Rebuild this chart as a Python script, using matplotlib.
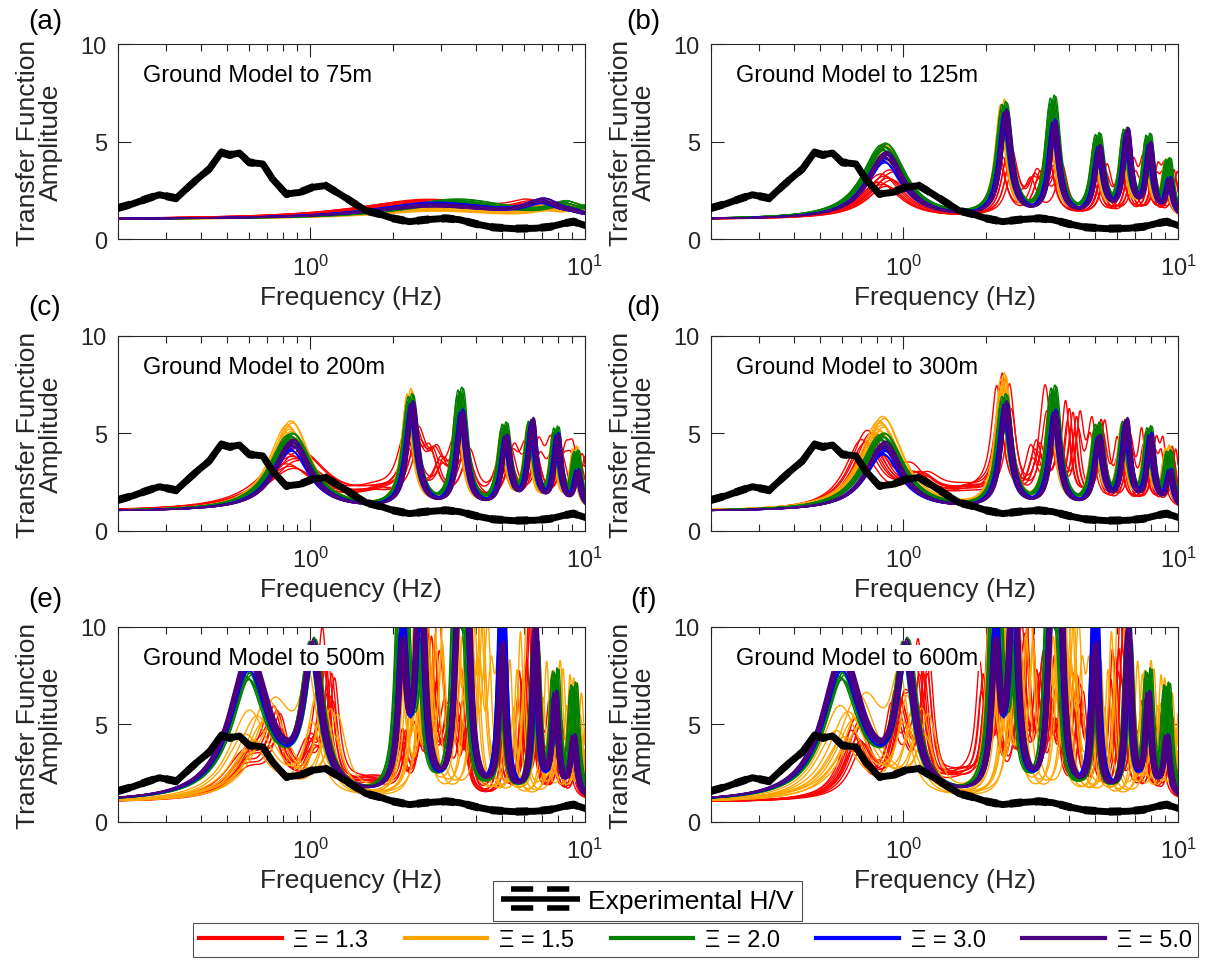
import numpy as np
import matplotlib
matplotlib.use('Agg')
import matplotlib.pyplot as plt
from matplotlib.lines import Line2D
from matplotlib.legend_handler import HandlerBase
from matplotlib.ticker import FixedLocator, NullFormatter

plt.rcParams['font.family'] = ['Liberation Sans', 'DejaVu Sans']
plt.rcParams['mathtext.fontset'] = 'custom'
plt.rcParams['mathtext.rm'] = 'Liberation Sans'
plt.rcParams['mathtext.default'] = 'regular'

# ---- data -------------------------------------------------------------
XI_LABELS = ['1.3', '1.5', '2.0', '3.0', '5.0']
XI_COLORS = ['#ff0000', '#ffa500', '#008000', '#0000ff', '#4b0082']
DEPTHS = ['75m', '125m', '200m', '300m', '500m', '600m']
PANEL_TAGS = ['(a)', '(b)', '(c)', '(d)', '(e)', '(f)']

# experimental H/V curve (black)
HV_FREQ = [0.2, 0.226, 0.253, 0.283, 0.326, 0.354, 0.395, 0.43, 0.475, 0.51,
           0.553, 0.60, 0.673, 0.73, 0.818, 0.915, 1.02, 1.14, 1.28, 1.43,
           1.6, 1.79, 2.0, 2.3, 2.64, 3.12, 3.5, 4.02, 4.62, 5.5, 6.6, 7.5,
           8.5, 9.1, 10.0]
HV_AMP = [1.59, 1.8, 2.05, 2.27, 2.09, 2.56, 3.16, 3.59, 4.44, 4.31,
          4.41, 3.93, 3.85, 3.08, 2.31, 2.39, 2.65, 2.74, 2.31, 1.88,
          1.45, 1.28, 1.06, 0.89, 0.99, 1.06, 0.99, 0.77, 0.6, 0.53, 0.55, 0.63,
          0.82, 0.89, 0.7]

# resonance peaks: frequency (Hz), width (ln f),
# peak amplitude per Xi (rows: 1.3, 1.5, 2.0, 3.0, 5.0)
A_FREQ = [2.8, 7.0, 9.0]
A_WIDTH = [0.65, 0.17, 0.08]
A_AMP = [[1.85, 1.5, 1.3],
         [1.6, 1.35, 1.45],
         [1.9, 1.55, 1.45],
         [1.75, 1.7, 1.1],
         [1.7, 1.75, 1.1]]
A_SHIFT = [0.93, 1.03, 1.2, 1.0, 1.0]
A_WFAC = [1.1, 1.0, 0.9, 1.0, 1.0]
A_RED_EXTRA = []

B_FREQ = [0.85, 2.33, 3.5, 5.1, 6.45, 7.8, 9.2]
B_WIDTH = [0.19, 0.056, 0.05, 0.045, 0.04, 0.036, 0.033]
B_AMP = [[3.1, 4.0, 3.6, 3.2, 3.3, 3.2, 3.0],
         [4.5, 6.4, 6.1, 4.5, 4.7, 4.4, 3.6],
         [4.7, 6.5, 6.8, 4.9, 5.1, 4.8, 3.7],
         [4.1, 6.1, 5.6, 4.3, 5.0, 4.4, 2.8],
         [4.3, 6.2, 5.6, 4.4, 5.2, 4.5, 2.8]]
B_SHIFT = [1.02, 0.99, 1.0, 1.01, 1.015]
B_WFAC = [1.1, 1.0, 1.05, 1.0, 0.95]
B_RED_EXTRA = [(3.1, 2.6, 0.06)]

C_FREQ = [0.85, 2.32, 3.52, 5.1, 6.35, 7.85, 9.3]
C_WIDTH = [0.19, 0.056, 0.05, 0.045, 0.04, 0.036, 0.033]
C_AMP = [[3.6, 4.2, 3.7, 3.4, 3.6, 3.4, 3.2],
         [5.2, 6.5, 6.2, 4.7, 4.9, 4.5, 3.8],
         [4.8, 6.5, 6.8, 5.0, 5.1, 4.8, 3.7],
         [4.3, 6.1, 5.7, 4.4, 5.1, 4.5, 2.8],
         [4.5, 6.2, 5.7, 4.5, 5.3, 4.5, 2.8]]
C_SHIFT = [1.02, 0.99, 1.0, 1.01, 1.015]
C_WFAC = [1.5, 1.0, 1.05, 1.0, 0.95]
C_RED_EXTRA = [(1.75, 1.6, 0.25), (2.9, 2.8, 0.07)]

D_FREQ = [0.84, 2.33, 3.52, 5.1, 6.4, 7.85, 9.25]
D_WIDTH = [0.19, 0.056, 0.05, 0.045, 0.04, 0.036, 0.033]
D_AMP = [[1.0, 6.3, 3.8, 4.6, 4.0, 4.0, 3.6],
         [5.4, 7.2, 6.2, 4.7, 4.9, 4.5, 3.8],
         [4.8, 6.5, 6.9, 5.0, 5.1, 4.8, 3.7],
         [4.1, 6.1, 5.7, 4.4, 5.1, 4.5, 2.8],
         [4.4, 6.2, 5.7, 4.5, 5.3, 4.5, 2.8]]
D_SHIFT = [1.0, 0.99, 1.0, 1.01, 1.015]
D_WFAC = [1.0, 1.05, 1.05, 1.0, 0.95]
D_RED_EXTRA = [(0.75, 4.3, 0.17), (1.15, 2.2, 0.15), (1.75, 1.8, 0.3),
               (3.1, 3.4, 0.06), (4.15, 5.0, 0.04)]

E_FREQ = [0.6, 1.02, 2.17, 2.52, 3.45, 3.7, 5.0, 6.6, 7.8, 9.1]
E_WIDTH = [0.2, 0.09, 0.04, 0.04, 0.035, 0.035, 0.03, 0.03, 0.03, 0.03]
E_AMP = [[3.0, 3.0, 3.5, 4.0, 4.0, 3.5, 4.5, 5.0, 4.5, 4.0],
         [5.0, 5.0, 10.0, 9.0, 10.0, 8.0, 7.5, 7.0, 6.0, 6.0],
         [7.4, 8.2, 14.0, 8.0, 14.0, 7.0, 9.0, 8.5, 7.0, 6.5],
         [7.9, 7.8, 9.0, 12.0, 9.0, 12.0, 12.0, 8.0, 6.0, 4.0],
         [8.2, 8.1, 8.0, 14.0, 8.0, 14.0, 8.5, 9.5, 6.0, 4.0]]
E_SHIFT = [1.0, 1.1, 1.0, 1.0, 1.0]
E_WFAC = [1.0, 1.0, 1.0, 1.0, 1.0]
E_RED_EXTRA = [(0.75, 4.0, 0.08), (1.17, 6.3, 0.05), (1.65, 1.8, 0.25),
               (2.8, 7.0, 0.04), (3.15, 4.0, 0.05), (6.0, 6.5, 0.03)]

F_FREQ = [0.6, 1.02, 2.17, 2.52, 3.45, 3.7, 5.0, 6.6, 7.8, 9.1]
F_WIDTH = [0.2, 0.09, 0.04, 0.04, 0.035, 0.035, 0.03, 0.03, 0.03, 0.03]
F_AMP = [[1.0, 3.0, 4.5, 4.0, 4.5, 3.5, 5.0, 5.0, 4.5, 4.5],
         [5.2, 5.0, 10.0, 9.0, 10.0, 8.0, 7.5, 7.0, 6.0, 6.0],
         [7.4, 8.2, 14.0, 8.0, 14.0, 7.0, 9.0, 8.5, 7.0, 6.5],
         [7.9, 7.8, 9.0, 12.0, 9.0, 12.0, 12.0, 8.0, 6.0, 4.0],
         [8.2, 8.1, 8.0, 14.0, 8.0, 14.0, 8.5, 9.5, 6.0, 4.0]]
F_SHIFT = [1.0, 1.08, 1.0, 1.0, 1.0]
F_WFAC = [1.0, 1.0, 1.0, 1.0, 1.0]
F_RED_EXTRA = [(0.68, 4.2, 0.12), (0.95, 3.8, 0.06), (1.18, 6.6, 0.05),
               (1.65, 2.0, 0.25), (2.0, 5.5, 0.04), (2.75, 7.3, 0.04),
               (3.1, 5.5, 0.04), (4.3, 6.0, 0.04), (6.0, 7.5, 0.03)]

# scatter of the realisations within each Xi group
SPREAD = [-1.0, -0.75, -0.5, -0.25, 0.0, 0.25, 0.5, 0.75, 1.0]
A_FSPREAD, A_ASPREAD, A_MIX = [0.05, 0.04, 0.03, 0.03, 0.025], [0.2, 0.3, 0.15, 0.15, 0.1], [1, 1, 0, 0, 0]
BD_FSPREAD, BD_ASPREAD, BD_MIX = [0.06, 0.025, 0.025, 0.02, 0.015], [0.2, 0.1, 0.05, 0.07, 0.05], [2, 0, 0, 0, 0]
EF_FSPREAD, EF_ASPREAD, EF_MIX = [0.05, 0.12, 0.03, 0.02, 0.02], [0.25, 0.3, 0.05, 0.05, 0.04], [2, 1, 0, 0, 0]

FREQ_GRID = np.logspace(np.log10(0.2), np.log10(10), 1500)


def transfer_curve(freq, peaks):
    amp = np.ones_like(freq)
    for f0, a0, w in peaks:
        amp += (a0 - 1.0) / (1.0 + (np.log(freq / f0) / w) ** 2)
    return amp


def realisations(p, j):
    base = [(f * p['shift'][j], a, w * p['wfac'][j])
            for f, a, w in zip(p['freq'], p['amp'][j], p['width'])]
    if j == 0:
        base = base + p['extra']
    fs, asp, mix = p['fspread'][j], p['aspread'][j], p['mix'][j]
    n = len(SPREAD)
    out = []
    for i in range(n):
        peaks = []
        for k, (f0, a0, w) in enumerate(base):
            s = SPREAD[(i + k * mix) % n]
            t = SPREAD[(4 * i + k * mix + 2) % n]
            peaks.append((f0 * (1 + fs * s), 1 + (a0 - 1) * (1 + asp * t), w))
        out.append(transfer_curve(FREQ_GRID, peaks))
    return out


PANELS = [
    dict(freq=A_FREQ, width=A_WIDTH, amp=A_AMP, shift=A_SHIFT, wfac=A_WFAC, extra=A_RED_EXTRA,
         fspread=A_FSPREAD, aspread=A_ASPREAD, mix=A_MIX),
    dict(freq=B_FREQ, width=B_WIDTH, amp=B_AMP, shift=B_SHIFT, wfac=B_WFAC, extra=B_RED_EXTRA,
         fspread=BD_FSPREAD, aspread=BD_ASPREAD, mix=BD_MIX),
    dict(freq=C_FREQ, width=C_WIDTH, amp=C_AMP, shift=C_SHIFT, wfac=C_WFAC, extra=C_RED_EXTRA,
         fspread=BD_FSPREAD, aspread=BD_ASPREAD, mix=BD_MIX),
    dict(freq=D_FREQ, width=D_WIDTH, amp=D_AMP, shift=D_SHIFT, wfac=D_WFAC, extra=D_RED_EXTRA,
         fspread=BD_FSPREAD, aspread=BD_ASPREAD, mix=BD_MIX),
    dict(freq=E_FREQ, width=E_WIDTH, amp=E_AMP, shift=E_SHIFT, wfac=E_WFAC, extra=E_RED_EXTRA,
         fspread=EF_FSPREAD, aspread=EF_ASPREAD, mix=EF_MIX),
    dict(freq=F_FREQ, width=F_WIDTH, amp=F_AMP, shift=F_SHIFT, wfac=F_WFAC, extra=F_RED_EXTRA,
         fspread=EF_FSPREAD, aspread=EF_ASPREAD, mix=EF_MIX),
]


class HVHandler(HandlerBase):
    # solid line with dashed bounds above and below, as in the H/V legend
    def create_artists(self, legend, orig_handle, xdescent, ydescent, width, height, fontsize, trans):
        x0, x1 = -xdescent, width - xdescent
        yc = height / 2 - ydescent
        off = 0.5 * height
        arts = [Line2D([x0, x1], [yc, yc], color='k', lw=4, solid_capstyle='butt')]
        for dy in (off, -off):
            arts.append(Line2D([x0 + 0.12 * width, x1], [yc + dy, yc + dy], color='k', lw=4,
                               dashes=(4, 2.5), dash_capstyle='butt'))
        for a in arts:
            a.set_transform(trans)
        return arts


fig = plt.figure(figsize=(12.06, 9.62), dpi=100)

lefts = [0.0978, 0.5896]
bottoms = [0.7505, 0.4470, 0.1445]
tag_y = [0.977, 0.680, 0.376]
W, H = 0.3872, 0.2027
GREY = '#262626'

for n, p in enumerate(PANELS):
    row, col = divmod(n, 2)
    ax = fig.add_axes([lefts[col], bottoms[row], W, H])
    for j, color in enumerate(XI_COLORS):
        for curve in realisations(p, j):
            ax.plot(FREQ_GRID, curve, color=color, lw=1.0, zorder=2)
    ax.plot(HV_FREQ, HV_AMP, color='k', lw=5, solid_joinstyle='round', zorder=3)
    ax.plot(HV_FREQ, np.array(HV_AMP) + 0.1, color='k', lw=3, dashes=(3, 3), zorder=3)
    ax.plot(HV_FREQ, np.array(HV_AMP) - 0.1, color='k', lw=3, dashes=(3, 3), zorder=3)

    ax.set_xscale('log')
    ax.set_xlim(0.2, 10)
    ax.set_ylim(0, 10)
    ax.set_yticks([0, 5, 10])
    ax.xaxis.set_major_locator(FixedLocator([1, 10]))
    ax.xaxis.set_minor_locator(FixedLocator([0.2, 0.3, 0.4, 0.5, 0.6, 0.7, 0.8, 0.9,
                                             2, 3, 4, 5, 6, 7, 8, 9]))
    ax.xaxis.set_minor_formatter(NullFormatter())
    ax.tick_params(which='both', direction='in', top=True, right=True, colors=GREY,
                   labelsize=17, width=0.8)
    ax.tick_params(which='major', length=9)
    ax.tick_params(which='minor', length=5)
    ax.tick_params(axis='x', which='major', pad=11)
    ax.tick_params(axis='y', which='major', pad=8)
    for sp in ax.spines.values():
        sp.set_color(GREY)
        sp.set_linewidth(0.8)

    ax.set_xlabel('Frequency (Hz)', fontsize=19, labelpad=4, color=GREY)
    ax.set_ylabel('Transfer Function\nAmplitude', fontsize=19, color=GREY, linespacing=0.95)
    ax.yaxis.label.set_va('center')
    ax.yaxis.set_label_coords(-0.168, 0.5)

    ax.text(0.053, 0.841, 'Ground Model to ' + DEPTHS[n], transform=ax.transAxes,
            fontsize=17, ha='left', va='center', zorder=5,
            bbox=dict(facecolor='white', edgecolor='none', pad=1.5))
    fig.text(0.0373 + 0.496 * col, tag_y[row], PANEL_TAGS[n], fontsize=20,
             ha='center', va='center')

hv_handle = Line2D([], [], color='k')
leg1 = fig.legend([hv_handle], ['Experimental H/V'], loc='center',
                  bbox_to_anchor=(0.537, 0.0625), handler_map={Line2D: HVHandler()},
                  fontsize=19, handlelength=3.0, handletextpad=0.3, frameon=True,
                  fancybox=False, edgecolor=GREY, borderpad=0.3, borderaxespad=0)
leg1.get_frame().set_linewidth(0.8)

xi_handles = [Line2D([], [], color=c, lw=3) for c in XI_COLORS]
xi_labels = ['\u039e = ' + x for x in XI_LABELS]
leg2 = fig.legend(xi_handles, xi_labels, loc='center',
                  bbox_to_anchor=(0.160, 0.005, 0.833, 0.034), mode='expand',
                  ncol=5, fontsize=17, handlelength=3.5, handletextpad=0.5,
                  frameon=True, fancybox=False, edgecolor=GREY,
                  borderpad=0.25, borderaxespad=0)
leg2.get_frame().set_linewidth(0.8)

fig.savefig('out.png', dpi=100)
